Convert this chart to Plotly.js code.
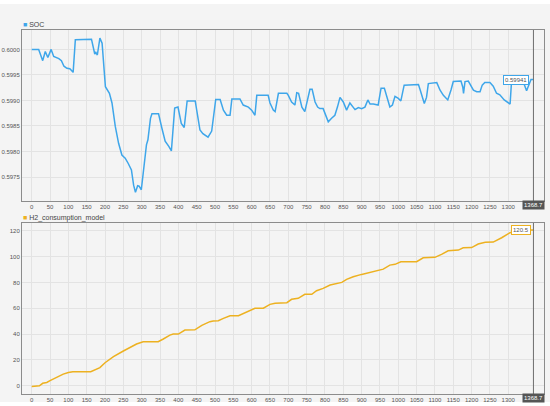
<!DOCTYPE html>
<html><head><meta charset="utf-8">
<script src="https://cdn.plot.ly/plotly-3.0.1.min.js"></script>
<style>html,body{margin:0;padding:0;background:#fff}#chart{width:550px;height:406px}</style>
</head><body><div id="chart"></div>
<script>
const socT = [0,19,30,37,44,53,60,74,81,88,96,104,108,113,119,163,172,175,179,186,192,201,212,219,228,237,246,255,263,272,278,283,289,293,299,305,313,317,324,328,346,355,364,374,381,390,399,408,416,424,446,459,467,481,491,502,514,523,532,541,546,568,577,591,600,609,614,645,650,659,664,673,696,700,709,718,723,728,737,745,753,759,765,773,780,786,795,802,809,818,827,834,841,850,859,868,873,882,891,900,909,917,923,932,945,953,962,968,977,984,991,1000,1007,1016,1055,1060,1066,1071,1077,1082,1105,1114,1123,1135,1144,1150,1171,1176,1178,1182,1191,1198,1205,1214,1223,1229,1236,1250,1259,1268,1277,1289,1296,1305,1309,1340,1350,1362,1368.7];
const socV = [0.6000,0.6000,0.59978,0.59996,0.59984,0.6000,0.59986,0.59982,0.59978,0.59967,0.59963,0.59962,0.59959,0.59955,0.60019,0.6002,0.59991,0.59994,0.59989,0.60022,0.60012,0.59927,0.59914,0.59895,0.59849,0.59816,0.59793,0.59787,0.59777,0.59764,0.59734,0.5972,0.59733,0.59732,0.59725,0.59767,0.59813,0.59823,0.59865,0.59874,0.59874,0.59846,0.5982,0.5981,0.59801,0.59885,0.59887,0.59855,0.59847,0.59899,0.59899,0.59842,0.59835,0.59828,0.5984,0.59902,0.59902,0.59881,0.59871,0.59871,0.59903,0.59903,0.59891,0.59887,0.59881,0.59871,0.5991,0.5991,0.59895,0.59881,0.59878,0.59914,0.59914,0.5991,0.59897,0.59891,0.59915,0.59914,0.59887,0.59878,0.59907,0.59922,0.59922,0.59897,0.59887,0.59884,0.59884,0.59871,0.59858,0.59865,0.59871,0.59887,0.59906,0.59897,0.59881,0.59895,0.59891,0.59882,0.59886,0.59884,0.59887,0.59901,0.59893,0.59893,0.59891,0.59924,0.59924,0.59907,0.59887,0.59891,0.59908,0.59904,0.59899,0.5993,0.59931,0.5992,0.59904,0.59894,0.59906,0.59933,0.59935,0.5992,0.5991,0.59901,0.59921,0.59937,0.59938,0.59926,0.59914,0.59937,0.59938,0.59928,0.5992,0.59917,0.59917,0.5993,0.59935,0.59935,0.59928,0.59914,0.59911,0.59901,0.59897,0.59893,0.59938,0.59938,0.59919,0.59941,0.59941];
const h2T = [0,21,30,41,50,68,86,100,112,161,173,186,200,223,250,273,286,304,345,359,377,386,400,418,445,464,486,495,509,523,541,564,582,595,609,632,650,664,696,709,727,745,764,777,795,814,832,846,859,877,900,918,932,945,959,977,991,1007,1050,1068,1100,1118,1136,1164,1177,1200,1218,1237,1259,1282,1305,1330,1368.7];
const h2V = [-0.5,0,1.9,2.5,3.9,6.5,9,10.3,10.9,10.9,12.7,14,17.8,22.5,26.9,30.2,32.3,34.1,34.1,36.2,39.2,40,40,43.1,43.3,46.8,49.6,50.1,50.3,52.2,54.2,54.2,56.5,58.1,59.9,60,63,63.8,64.3,66.9,67.7,70.8,70.8,73.6,75.4,78,79.3,80,82.4,84.4,86.2,87.5,88.8,89.6,90.3,93.4,94,96,96,99.1,99.4,101.7,104.5,105,106.8,107,109.7,111,111.2,114.6,118.5,120.5,120.5];
const xTicks = [0,50,100,150,200,250,300,350,400,450,500,550,600,650,700,750,800,850,900,950,1000,1050,1100,1150,1200,1250,1300];
const socTicks = [0.5975,0.5980,0.5985,0.5990,0.5995,0.6000];
const h2Ticks = [0,20,40,60,80,100,120];
const cursorT = 1368.7;
const socLast = "0.59941";
const h2Last = "120.5";

const blue = '#3ea6ea', orange = '#edb120';
const W = 550, H = 406;
const px = v => v / W, py = v => 1 - v / H;
const xr = [-26.5, 1397.5];
const tickFont = {family: 'Liberation Sans, Arial, sans-serif', size: 6, color: '#555'};
const axBase = {range: xr, showgrid: true, gridcolor: '#e3e3e3', gridwidth: 1, zeroline: false,
  showline: true, mirror: true, linecolor: '#8c8c8c', linewidth: 1, ticks: '', tickfont: tickFont,
  tickvals: xTicks, ticktext: xTicks.map(String), fixedrange: true};

const traces = [
  {x: socT, y: socV, xaxis: 'x', yaxis: 'y', type: 'scatter', mode: 'lines', line: {color: blue, width: 1.5}, hoverinfo: 'skip'},
  {x: h2T, y: h2V, xaxis: 'x2', yaxis: 'y2', type: 'scatter', mode: 'lines', line: {color: orange, width: 1.5}, hoverinfo: 'skip'}
];

const layout = {
  width: W, height: H, margin: {l: 0, r: 0, t: 0, b: 0},
  paper_bgcolor: '#ffffff', plot_bgcolor: '#ffffff', showlegend: false,
  font: {family: 'Liberation Sans, Arial, sans-serif'},
  xaxis: Object.assign({}, axBase, {domain: [px(22), px(544)], anchor: 'y'}),
  yaxis: {domain: [py(201), py(30)], anchor: 'x', range: [0.59703, 0.60038], tickvals: socTicks,
    ticktext: socTicks.map(v => v.toFixed(4)), showgrid: true, gridcolor: '#e3e3e3', zeroline: false,
    showline: true, mirror: true, linecolor: '#8c8c8c', ticks: '', tickfont: tickFont, fixedrange: true},
  xaxis2: Object.assign({}, axBase, {domain: [px(22), px(544)], anchor: 'y2'}),
  yaxis2: {domain: [py(394), py(223)], anchor: 'x2', range: [-6.4, 126], tickvals: h2Ticks,
    ticktext: h2Ticks.map(String), showgrid: true, gridcolor: '#e3e3e3', zeroline: false,
    showline: true, mirror: true, linecolor: '#8c8c8c', ticks: '', tickfont: tickFont, fixedrange: true},
  shapes: [
    {type: 'rect', xref: 'paper', yref: 'paper', x0: 0, x1: 1, y0: py(402), y1: py(4), fillcolor: '#f4f4f4', line: {width: 0}, layer: 'below'},
    {type: 'line', xref: 'x', yref: 'y domain', x0: cursorT, x1: cursorT, y0: 0, y1: 1, line: {color: '#6e6e6e', width: 1}},
    {type: 'line', xref: 'x2', yref: 'y2 domain', x0: cursorT, x1: cursorT, y0: 0, y1: 1, line: {color: '#6e6e6e', width: 1}}
  ],
  annotations: [
    {xref: 'paper', yref: 'paper', x: px(21), y: py(24), xanchor: 'left', yanchor: 'middle', showarrow: false,
      text: '<span style="color:' + blue + '">■</span> SOC', font: {size: 7, color: '#444'}},
    {xref: 'paper', yref: 'paper', x: px(21), y: py(218), xanchor: 'left', yanchor: 'middle', showarrow: false,
      text: '<span style="color:' + orange + '">■</span> H2_consumption_model', font: {size: 7, color: '#444'}},
    {xref: 'x', yref: 'paper', x: cursorT, y: py(205), xanchor: 'center', yanchor: 'middle', showarrow: false,
      text: String(cursorT), bgcolor: '#555555', font: {size: 6, color: '#ffffff'}, borderpad: 1},
    {xref: 'x2', yref: 'paper', x: cursorT, y: py(398), xanchor: 'center', yanchor: 'middle', showarrow: false,
      text: String(cursorT), bgcolor: '#555555', font: {size: 6, color: '#ffffff'}, borderpad: 1},
    {xref: 'x', yref: 'y', x: 1321, y: Number(socLast), xanchor: 'center', yanchor: 'middle', showarrow: false,
      text: socLast, bgcolor: '#ffffff', bordercolor: blue, borderwidth: 1, borderpad: 1, font: {size: 6, color: '#555'}},
    {xref: 'x2', yref: 'y2', x: 1336, y: Number(h2Last), xanchor: 'center', yanchor: 'middle', showarrow: false,
      text: h2Last, bgcolor: '#ffffff', bordercolor: orange, borderwidth: 1, borderpad: 1, font: {size: 6, color: '#555'}}
  ]
};
Plotly.newPlot('chart', traces, layout, {staticPlot: true, displayModeBar: false});
</script></body></html>
